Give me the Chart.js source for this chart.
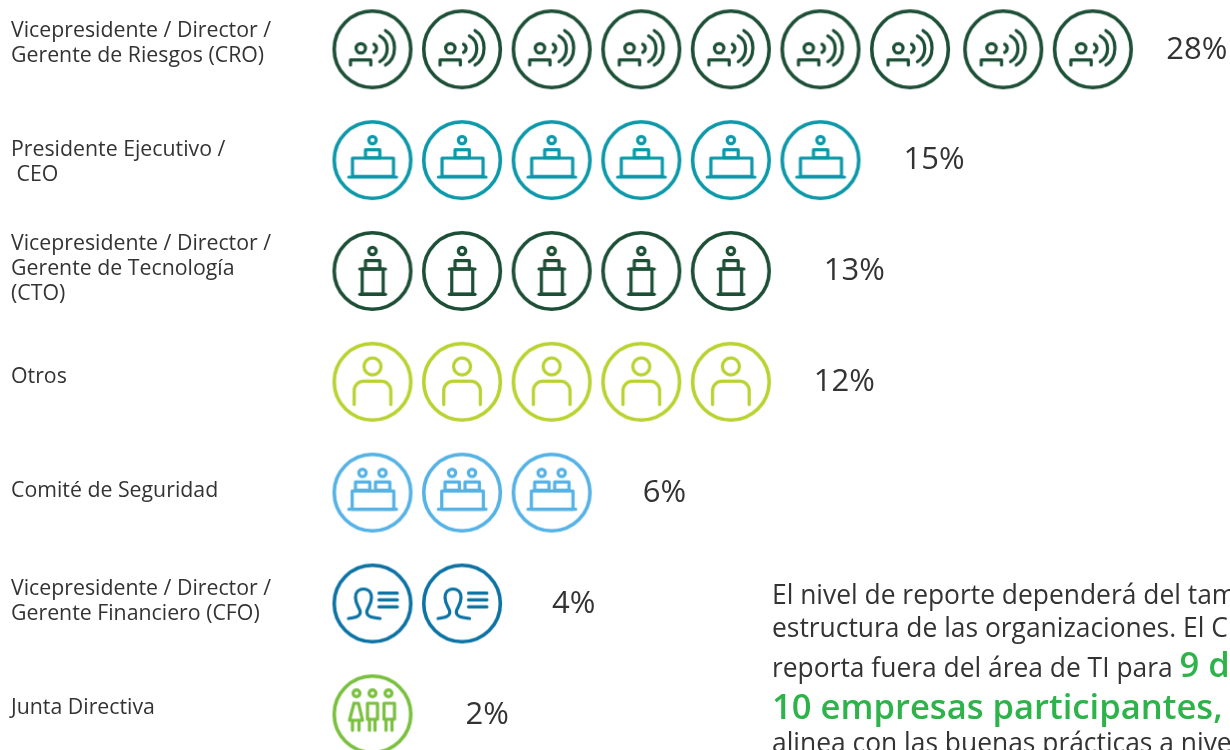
<!DOCTYPE html>
<html lang="es">
<head>
<meta charset="utf-8">
<title>Nivel de reporte</title>
<script src="https://cdn.jsdelivr.net/npm/chart.js@4/dist/chart.umd.min.js"></script>
<style>
  html, body { margin: 0; padding: 0; background: #fff; overflow: hidden; }
  canvas { display: block; }
</style>
</head>
<body>
<canvas id="chart" width="1230" height="750"></canvas>
<script>
const categories = [
  ['Vicepresidente / Director /', 'Gerente de Riesgos (CRO)'],
  ['Presidente Ejecutivo /', ' CEO'],
  ['Vicepresidente / Director /', 'Gerente de Tecnología', '(CTO)'],
  ['Otros'],
  ['Comité de Seguridad'],
  ['Vicepresidente / Director /', 'Gerente Financiero (CFO)'],
  ['Junta Directiva'],
];
const percents = [28, 15, 13, 12, 6, 4, 2];
const iconCounts = [9, 6, 5, 5, 3, 2, 1];

// layout nudges, px
const labelNudge = [-6, 2, -2, -5, -2, -2, -6];
const valueGap = [77, 83, 93, 83, 91, 90, 93];
const rowColors = ['#1c4f36', '#0b98a9', '#1c4f36', '#bad230', '#55b2e5', '#0b72a3', '#79c03e'];

const TEXT = '#333333';
const GREEN = '#2db34a';
const FONT = "'Open Sans', 'Noto Sans', sans-serif";

function line(c, pts) {
  c.beginPath();
  pts.forEach((p, i) => i ? c.lineTo(p[0], p[1]) : c.moveTo(p[0], p[1]));
  c.stroke();
}
function dot(c, x, y, r) {
  c.beginPath();
  c.arc(x, y, r, 0, Math.PI * 2);
  c.stroke();
}
function box(c, x0, y0, x1, y1) {
  c.strokeRect(x0, y0, x1 - x0, y1 - y0);
}
function wave(c, x, y0, y1, bulge) {
  const cx = x + (bulge - x) * 4 / 3;
  const h = y1 - y0;
  c.beginPath();
  c.moveTo(x, y0);
  c.bezierCurveTo(cx, y0 + h * 0.2, cx, y0 + h * 0.8, x, y1);
  c.stroke();
}

const glyphs = [
  c => { // speaker
    dot(c, -11.7, -1, 4.7);
    line(c, [[-22, 15.7], [-22, 10.7], [-1.7, 10.7], [-1.7, 15.7]]);
    wave(c, 1.5, -5, 3, 4);
    wave(c, 7.3, -13.3, 12.3, 14.7);
    wave(c, 13, -18.7, 15.7, 22);
  },
  c => { // desk
    dot(c, 0, -20, 3.7);
    box(c, -7, -10.3, 7.3, -2.3);
    box(c, -20, -2, 21, 16.3);
    line(c, [[-23.7, 17], [24, 17]]);
  },
  c => { // lectern
    dot(c, 0, -20, 3.7);
    box(c, -7, -10.3, 7.3, -2);
    box(c, -10.3, -2, 10.7, 23);
    line(c, [[-12.7, -2], [13, -2]]);
    line(c, [[-12.7, 23.3], [13, 23.3]]);
  },
  c => { // person
    dot(c, 0, -15.3, 8.5);
    c.beginPath();
    c.moveTo(-18.3, 22.7);
    c.lineTo(-18.3, 9);
    c.arcTo(-18.3, -0.7, -8.6, -0.7, 9.5);
    c.lineTo(8.6, -0.7);
    c.arcTo(18.3, -0.7, 18.3, 9, 9.5);
    c.lineTo(18.3, 22.7);
    c.stroke();
  },
  c => { // double desk
    dot(c, -10, -19.7, 3.7);
    dot(c, 10, -19.7, 3.7);
    box(c, -17, -10.7, -2.7, -2.3);
    box(c, 3, -10.7, 17.3, -2.3);
    box(c, -20.3, -1.7, 21.3, 16.7);
    line(c, [[-23.7, 16.7], [24, 16.7]]);
  },
  c => { // omega head + lines
    c.beginPath();
    c.moveTo(-24, 15);
    c.bezierCurveTo(-17, 14, -11, 13, -12.5, 7);
    c.bezierCurveTo(-14, 3, -17, 0, -17, -6);
    c.bezierCurveTo(-17, -11, -14, -14.5, -9, -14.5);
    c.bezierCurveTo(-4, -14.5, -1, -11, -1, -6);
    c.bezierCurveTo(-1, 0, -4, 3, -5.5, 7);
    c.bezierCurveTo(-7, 13, -1, 14, 7.5, 15);
    c.stroke();
    [-10.3, -3.7, 3.3].forEach(y => line(c, [[6.5, y], [24.8, y]]));
  },
  c => { // board of three
    [-16, 0, 16].forEach(x => dot(c, x, -21, 3.4));
    line(c, [[-18.5, -11], [-14, -11], [-10, 6], [-23, 6], [-18.5, -11]]);
    line(c, [[-20, 6], [-20, 16]]);
    line(c, [[-13.5, 6], [-13.5, 16]]);
    box(c, -5, -11, 5, 5);
    line(c, [[-3, 5], [-3, 16]]);
    line(c, [[2.5, 5], [2.5, 16]]);
    box(c, 11.5, -11, 22, 5);
    line(c, [[13.5, 5], [13.5, 16]]);
    line(c, [[19.5, 5], [19.5, 16]]);
  },
];

function makeIcon(color, glyph) {
  const cv = document.createElement('canvas');
  cv.width = 90;
  cv.height = 90;
  const c = cv.getContext('2d');
  c.translate(45, 45);
  c.strokeStyle = color;
  c.lineCap = 'round';
  c.lineJoin = 'round';
  c.lineWidth = 3.6;
  dot(c, 0, 0, 38.3);
  c.lineWidth = 3.2;
  glyph(c);
  return cv;
}

// the 8th and 9th icons of the first row sit a little further right
const SLOT_GAP = 0.04;

const datasets = categories.map((cat, row) => ({
  label: cat.join(' '),
  data: Array.from({ length: iconCounts[row] }, (_, i) => ({ x: i + (i >= 7 ? SLOT_GAP : 0), y: row })),
  pointStyle: makeIcon(rowColors[row], glyphs[row]),
  pointRadius: 40,
  pointHoverRadius: 40,
  showLine: false,
  clip: false,
}));

const paragraph = [
  { y: 604, runs: [['400 26.4px', TEXT, 'El nivel de reporte dependerá del tam']] },
  { y: 636.5, runs: [['400 26.4px', TEXT, 'estructura de las organizaciones. El C']] },
  { y: 677, runs: [['400 26.4px', TEXT, 'reporta fuera del área de TI para '], ['600 34.6px', GREEN, '9 d']] },
  { y: 719, runs: [['600 34.6px', GREEN, '10 empresas participantes,']] },
  { y: 752, runs: [['400 26.4px', TEXT, 'alinea con las buenas prácticas a nive']] },
];

const textPlugin = {
  id: 'rowText',
  afterDatasetsDraw(chart) {
    const { ctx, scales: { x, y } } = chart;
    ctx.save();
    ctx.textAlign = 'left';
    ctx.textBaseline = 'middle';
    categories.forEach((lines, row) => {
      const cy = y.getPixelForValue(row);
      ctx.fillStyle = TEXT;
      ctx.font = '21.3px ' + FONT;
      lines.forEach((ln, i) => {
        ctx.fillText(ln, 11, cy + labelNudge[row] + (i - (lines.length - 1) / 2) * 25);
      });
      ctx.font = '31px ' + FONT;
      ctx.fillText(percents[row] + '%', x.getPixelForValue(iconCounts[row] - 1) + valueGap[row], cy + 0.5);
    });
    ctx.textBaseline = 'alphabetic';
    paragraph.forEach(p => {
      let px = 772;
      p.runs.forEach(([font, color, str]) => {
        ctx.font = font + ' ' + FONT;
        ctx.fillStyle = color;
        ctx.fillText(str, px, p.y);
        px += ctx.measureText(str).width;
      });
    });
    ctx.restore();
  },
};

new Chart(document.getElementById('chart'), {
  type: 'scatter',
  data: { datasets },
  options: {
    responsive: false,
    animation: false,
    events: [],
    layout: { padding: 0, autoPadding: false },
    plugins: { legend: { display: false }, tooltip: { enabled: false } },
    scales: {
      x: { type: 'linear', display: false, min: -4.157, max: 9.571 },
      y: { type: 'linear', display: false, reverse: true, min: -0.4447, max: 6.3224 },
    },
  },
  plugins: [textPlugin],
});
</script>
</body>
</html>
